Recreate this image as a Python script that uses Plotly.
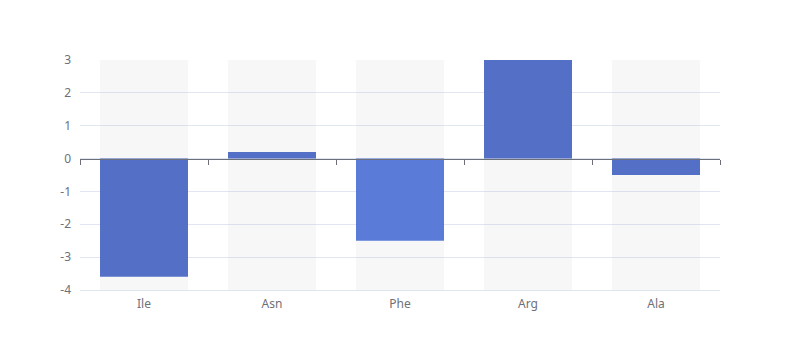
import plotly.graph_objects as go

categories = ["Ile", "Asn", "Phe", "Arg", "Ala"]
values = [-3.6, 0.2, -2.5, 3.0, -0.5]
bar_colors = ["#5470c6", "#5470c6", "#5b7bd9", "#5470c6", "#5470c6"]
y_min, y_max = -4, 3
y_ticks = [-4, -3, -2, -1, 0, 1, 2, 3]
y_tick_text = ["-4", "-3", "-2", "-1", "0", "1", "2", "3"]

bar_width = 88 / 128

fig = go.Figure()

# background bars (showBackground style), spanning the full value axis
fig.add_trace(go.Bar(
    x=categories,
    y=[y_max - y_min] * len(categories),
    base=[y_min] * len(categories),
    width=bar_width,
    marker=dict(color="rgba(180,180,180,0.1)", line=dict(width=0)),
    hoverinfo="skip",
    xaxis="x", yaxis="y",
    showlegend=False,
))

# data bars, on an axis placed at value 0
fig.add_trace(go.Bar(
    x=categories,
    y=values,
    width=bar_width,
    marker=dict(color=bar_colors, line=dict(width=0)),
    xaxis="x2", yaxis="y",
    showlegend=False,
))

zero_pos = (0 - y_min) / (y_max - y_min)

fig.update_layout(
    width=800, height=360,
    margin=dict(l=72, r=88, t=52, b=78),
    paper_bgcolor="white", plot_bgcolor="white",
    font=dict(family="Noto Sans, sans-serif", size=12, color="#6e7079"),
    barmode="overlay",
    xaxis=dict(
        type="category",
        categoryarray=categories,
        range=[-0.5, len(categories) - 0.5],
        showgrid=False, zeroline=False,
        showline=True, linecolor="#e0e6f1", linewidth=1,
        ticks="", ticklen=0, ticklabelstandoff=3,
        tickfont=dict(size=12, color="#6e7079"),
    ),
    xaxis2=dict(
        type="category",
        categoryarray=categories,
        range=[-0.5, len(categories) - 0.5],
        overlaying="x", anchor="free", position=zero_pos,
        showgrid=False, zeroline=False,
        showline=True, linecolor="#6e7079", linewidth=1,
        ticks="outside", tickson="boundaries", ticklen=5,
        tickcolor="#6e7079", tickwidth=1,
        showticklabels=False,
    ),
    yaxis=dict(
        range=[y_min, y_max],
        tickvals=y_ticks,
        ticktext=y_tick_text,
        showgrid=True, gridcolor="#e0e6f1", gridwidth=1,
        zeroline=False, showline=False,
        ticks="", ticklabelstandoff=8,
        tickfont=dict(size=12, color="#6e7079"),
    ),
)

fig.write_html("out.html")
